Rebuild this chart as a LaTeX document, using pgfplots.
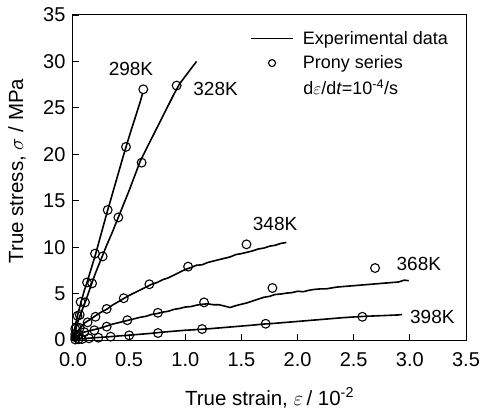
\documentclass[border=0pt]{standalone}
\usepackage{fontspec}
\setmainfont{Liberation Sans}
\usepackage{pgfplots}
\pgfplotsset{compat=1.18}
\pgfplotsset{
  lineleg/.style={legend image code/.code={\draw[##1] (0pt,0pt) -- (42pt,0pt);}},
  markleg/.style={legend image code/.code={\draw[##1, mark size=3.5pt] plot coordinates {(21pt,0pt)};}},
  prony/.style={only marks, mark=o, mark size=4.4pt, line width=1.1pt, mark options={fill=white}},
}
\begin{document}
\begin{tikzpicture}
\begin{axis}[name=ax, scale only axis, width=393pt, height=325pt,
  xmin=0, xmax=3.5, ymin=0, ymax=35,
  xtick={0,0.5,1,1.5,2,2.5,3,3.5}, ytick={0,5,10,15,20,25,30,35},
  xticklabel style={/pgf/number format/fixed, /pgf/number format/fixed zerofill, /pgf/number format/precision=1, yshift=-9pt},
  yticklabel style={xshift=-4pt},
  /pgf/number format/assume math mode=true,
  tick align=inside, xtick pos=bottom, ytick pos=left,
  major tick length=6pt,
  tick style={line width=0.9pt, black},
  axis line style={line width=1pt},
  ticklabel style={font=\fontsize{20}{22}\selectfont},
  label style={font=\fontsize{20.5}{22}\selectfont},
  xlabel={True strain, $\varepsilon$\,/ 10\textsuperscript{-2}},
  ylabel={True stress, $\sigma$ / MPa},
  xlabel style={at={(axis description cs:0.5,0)}, anchor=base, yshift=-65pt},
  ylabel style={at={(axis description cs:-0.127,0.52)}, anchor=base},
  legend cell align=left,
  legend style={draw=none, fill=none, font=\fontsize{18}{20}\selectfont,
    at={(axis cs:1.55,33.7)}, anchor=north west, row sep=6pt,
    /tikz/every odd column/.append style={column sep=7pt}},
  every axis plot/.append style={line width=1.6pt, black},
]
% experimental curves
\addplot[lineleg] coordinates {
(0,0)(0.01,0.8)(0.02,1.5)(0.03,2.1)(0.05,3.1)(0.07,4.0)(0.1,5.3)(0.13,6.4)(0.16,7.6)(0.2,9.2)(0.25,11.4)(0.3,13.6)(0.35,15.7)(0.4,17.8)(0.45,19.9)(0.5,21.9)(0.55,23.8)(0.6,25.7)(0.62,26.6)};
\addlegendentry{Experimental data}
\addplot[forget plot] coordinates {
(0,0)(0.02,1.0)(0.05,2.2)(0.08,3.2)(0.11,4.1)(0.15,5.5)(0.2,7.2)(0.25,8.7)(0.3,10.2)(0.35,11.6)(0.4,13.1)(0.45,14.6)(0.5,16.1)(0.55,17.7)(0.6,19.3)(0.65,20.5)(0.7,21.7)(0.75,22.9)(0.8,24.1)(0.85,25.3)(0.9,26.5)(0.95,27.6)(1.0,28.4)(1.05,29.2)(1.1,30.0)};
\addplot[forget plot] coordinates {
(0,0)(0.02,0.5)(0.05,1.1)(0.1,1.8)(0.15,2.2)(0.2,2.6)(0.25,3.0)(0.3,3.3)(0.35,3.75)(0.4,4.1)(0.45,4.45)(0.5,4.8)(0.55,5.1)(0.6,5.4)(0.65,5.7)(0.7,6.0)(0.75,6.2)(0.8,6.5)(0.85,6.7)(0.9,7.0)(0.95,7.3)(1.0,7.6)(1.05,7.8)(1.1,8.05)(1.15,8.1)(1.2,8.35)(1.25,8.5)(1.3,8.65)(1.35,8.8)(1.4,8.95)(1.45,9.2)(1.5,9.3)(1.55,9.45)(1.6,9.6)(1.65,9.8)(1.7,9.9)(1.75,10.1)(1.8,10.2)(1.85,10.4)(1.9,10.5)};
\addplot[forget plot] coordinates {
(0,0)(0.02,0.3)(0.05,0.55)(0.1,0.85)(0.15,1.0)(0.2,1.15)(0.25,1.3)(0.3,1.5)(0.35,1.7)(0.4,1.85)(0.45,2.0)(0.5,2.15)(0.55,2.3)(0.6,2.45)(0.65,2.55)(0.7,2.75)(0.75,2.85)(0.8,3.0)(0.85,3.1)(0.9,3.3)(0.95,3.4)(1.0,3.55)(1.05,3.6)(1.1,3.75)(1.15,3.85)(1.2,3.9)(1.25,3.8)(1.3,3.8)(1.35,3.65)(1.4,3.5)(1.45,3.7)(1.5,3.85)(1.55,4.0)(1.6,4.2)(1.65,4.4)(1.7,4.6)(1.75,4.7)(1.8,4.9)(1.85,4.95)(1.9,5.05)(1.95,5.1)(2.0,5.25)(2.05,5.2)(2.1,5.35)(2.15,5.45)(2.2,5.5)(2.25,5.5)(2.3,5.6)(2.35,5.7)(2.4,5.75)(2.45,5.8)(2.5,5.85)(2.55,5.9)(2.6,5.95)(2.65,6.0)(2.7,6.05)(2.75,6.1)(2.8,6.15)(2.85,6.2)(2.9,6.25)(2.95,6.45)(2.99,6.38)};
\addplot[forget plot] coordinates {
(0,0)(0.02,0.05)(0.05,0.1)(0.1,0.15)(0.2,0.25)(0.3,0.33)(0.4,0.43)(0.5,0.52)(0.6,0.62)(0.7,0.72)(0.8,0.85)(0.9,0.95)(1.0,1.05)(1.1,1.12)(1.2,1.2)(1.3,1.3)(1.4,1.4)(1.5,1.5)(1.6,1.6)(1.7,1.72)(1.8,1.8)(1.9,1.9)(2.0,2.0)(2.1,2.1)(2.2,2.2)(2.3,2.3)(2.4,2.4)(2.5,2.48)(2.6,2.55)(2.7,2.6)(2.8,2.65)(2.9,2.7)(2.93,2.75)};
% Prony series
\addplot[prony, markleg] coordinates {
(0.02,1.2)(0.04,2.6)(0.068,4.1)(0.125,6.2)(0.196,9.3)(0.309,14.0)(0.472,20.8)(0.626,27.0)};
\addlegendentry{Prony series}
\addplot[prony, forget plot] coordinates {
(0.03,1.4)(0.06,2.7)(0.107,4.05)(0.17,6.1)(0.264,9.0)(0.404,13.2)(0.611,19.1)(0.923,27.4)};
\addplot[prony, forget plot] coordinates {
(0.02,0.6)(0.06,1.3)(0.13,1.9)(0.2,2.5)(0.3,3.35)(0.452,4.5)(0.68,6.0)(1.025,7.9)(1.545,10.3)};
\addplot[prony, forget plot] coordinates {
(0.02,0.3)(0.05,0.6)(0.1,0.85)(0.19,1.05)(0.3,1.44)(0.484,2.13)(0.756,2.93)(1.167,4.05)(1.776,5.6)(2.69,7.75)};
\addplot[prony, forget plot] coordinates {
(0.02,0.05)(0.05,0.08)(0.08,0.1)(0.142,0.18)(0.226,0.25)(0.335,0.36)(0.5,0.5)(0.757,0.75)(1.15,1.18)(1.716,1.75)(2.577,2.5)};
\node[font=\fontsize{19}{21}\selectfont] at (axis cs:0.516,29.2) {298K};
\node[font=\fontsize{19}{21}\selectfont] at (axis cs:1.27,27.0) {328K};
\node[font=\fontsize{19}{21}\selectfont] at (axis cs:1.80,12.5) {348K};
\node[font=\fontsize{19}{21}\selectfont] at (axis cs:3.08,8.23) {368K};
\node[font=\fontsize{19}{21}\selectfont] at (axis cs:3.20,2.53) {398K};
\node[anchor=west, inner sep=0pt, font=\fontsize{18}{20}\selectfont] at (axis cs:2.05,27.2) {d$\varepsilon$/d\textit{t}=10\textsuperscript{-4}/s};
\end{axis}
\pgfresetboundingbox
\path ([shift={(-73pt,-69pt)}]ax.south west) rectangle ([shift={(15pt,15pt)}]ax.north east);
\end{tikzpicture}
\end{document}
